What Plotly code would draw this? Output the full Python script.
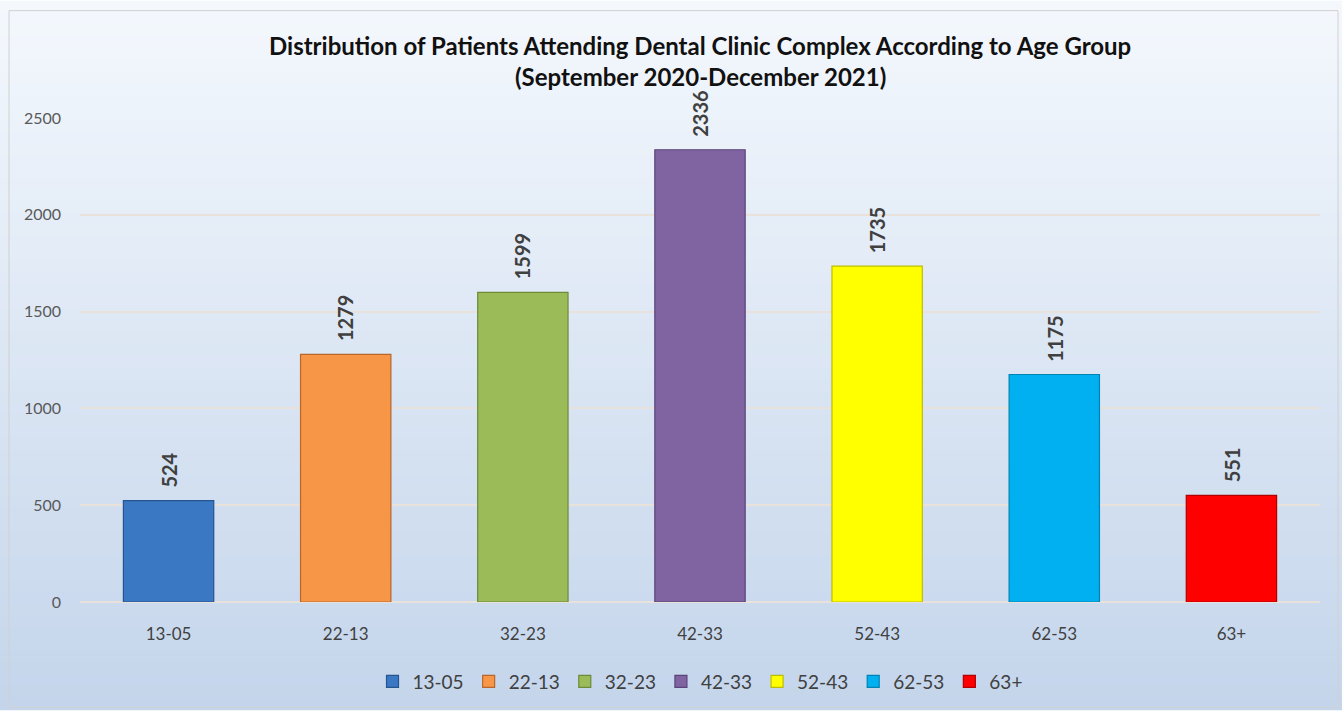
import plotly.graph_objects as go

categories = ["13-05", "22-13", "32-23", "42-33", "52-43", "62-53", "63+"]
values = [524, 1279, 1599, 2336, 1735, 1175, 551]
colors = ["#3A78C3", "#F79646", "#9BBB59", "#8064A2", "#FFFF00", "#00B0F0", "#FF0000"]
edges = ["#24558F", "#B9662A", "#6C8A38", "#5A4479", "#BDBD00", "#0082B3", "#B00000"]
y_ticks = [0, 500, 1000, 1500, 2000, 2500]

title_lines = ["Distribution of Patients Attending Dental Clinic Complex According to Age Group",
               "(September 2020-December 2021)"]

FONT = "Lato"
W, H = 1342, 713
L, R, T, B = 80, 22, 118, 108
PW, PH = W - L - R, H - T - B

fig = go.Figure()
for cat, val, col, edge in zip(categories, values, colors, edges):
    fig.add_trace(go.Bar(
        x=[cat], y=[val], name=cat,
        marker=dict(color=col, line=dict(color=edge, width=1.2)),
    ))

annotations = []
for cat, val in zip(categories, values):
    annotations.append(dict(x=cat, y=val, xref="x", yref="y", text="<b>%d</b>" % val,
                            textangle=-90, showarrow=False, xanchor="center", yanchor="bottom",
                            yshift=11, font=dict(family=FONT, size=20, color="#404040")))

# gradient background bands
shapes = []
n = 60
top_c = (244, 248, 253)
bot_c = (196, 213, 235)
for i in range(n):
    f = i / (n - 1)
    c = tuple(int(round(top_c[k] + (bot_c[k] - top_c[k]) * f)) for k in range(3))
    py0 = H * i / n
    py1 = H * (i + 1) / n + 1
    shapes.append(dict(type="rect", xref="paper", yref="paper",
                       x0=-L / PW, x1=1 + R / PW,
                       y0=(H - B - py1) / PH, y1=(H - B - py0) / PH,
                       fillcolor="rgb(%d,%d,%d)" % c, line=dict(width=0), layer="below"))
# border
shapes.append(dict(type="rect", xref="paper", yref="paper",
                   x0=(9 - L) / PW, x1=(1338 - L) / PW, y0=(H - B - 711) / PH, y1=(H - B - 10) / PH,
                   fillcolor="rgba(0,0,0,0)", line=dict(color="#D0D0D0", width=1), layer="above"))

annotations += [
    dict(text="<b>" + title_lines[0] + "</b>", xref="paper", yref="paper",
         x=0.5, y=(H - B - 45) / PH, xanchor="center", yanchor="middle", showarrow=False,
         font=dict(family=FONT, size=24, color="#111111")),
    dict(text="<b>" + title_lines[1] + "</b>", xref="paper", yref="paper",
         x=0.5, y=(H - B - 76) / PH, xanchor="center", yanchor="middle", showarrow=False,
         font=dict(family=FONT, size=24, color="#111111")),
]

fig.update_layout(
    width=W, height=H,
    margin=dict(l=L, r=R, t=T, b=B),
    paper_bgcolor="#FFFFFF", plot_bgcolor="rgba(0,0,0,0)",
    barmode="overlay", bargap=0.49,
    showlegend=True,
    legend=dict(orientation="h", x=0.5, xanchor="center", y=(H - B - 685) / PH, yanchor="middle",
                font=dict(family=FONT, size=19, color="#404040"),
                bgcolor="rgba(0,0,0,0)", itemwidth=30, traceorder="normal"),
    shapes=shapes,
    annotations=annotations,
    xaxis=dict(type="category", categoryorder="array", categoryarray=categories,
               showgrid=False, showline=False, ticks="", ticklabelstandoff=20,
               tickfont=dict(family=FONT, size=17, color="#404040")),
    yaxis=dict(range=[0, 2500], tickvals=y_ticks, showgrid=True, gridcolor="#E8E2DA",
               gridwidth=1.5, zeroline=True, zerolinecolor="#E8E2DA", zerolinewidth=1.5,
               showline=False, ticks="", ticklabelstandoff=18,
               tickfont=dict(family=FONT, size=16, color="#595959")),
)

post = (
    "document.documentElement.style.margin='0';"
    "document.documentElement.style.overflow='hidden';"
    "document.body.style.margin='0';"
    "document.body.style.overflow='hidden';"
    "var gd=document.querySelector('.plotly-graph-div');"
    "if(gd&&gd.parentElement){gd.parentElement.style.height='713px';gd.parentElement.style.overflow='hidden';}"
)
fig.write_html("out.html", config={"displayModeBar": False}, post_script=post)
